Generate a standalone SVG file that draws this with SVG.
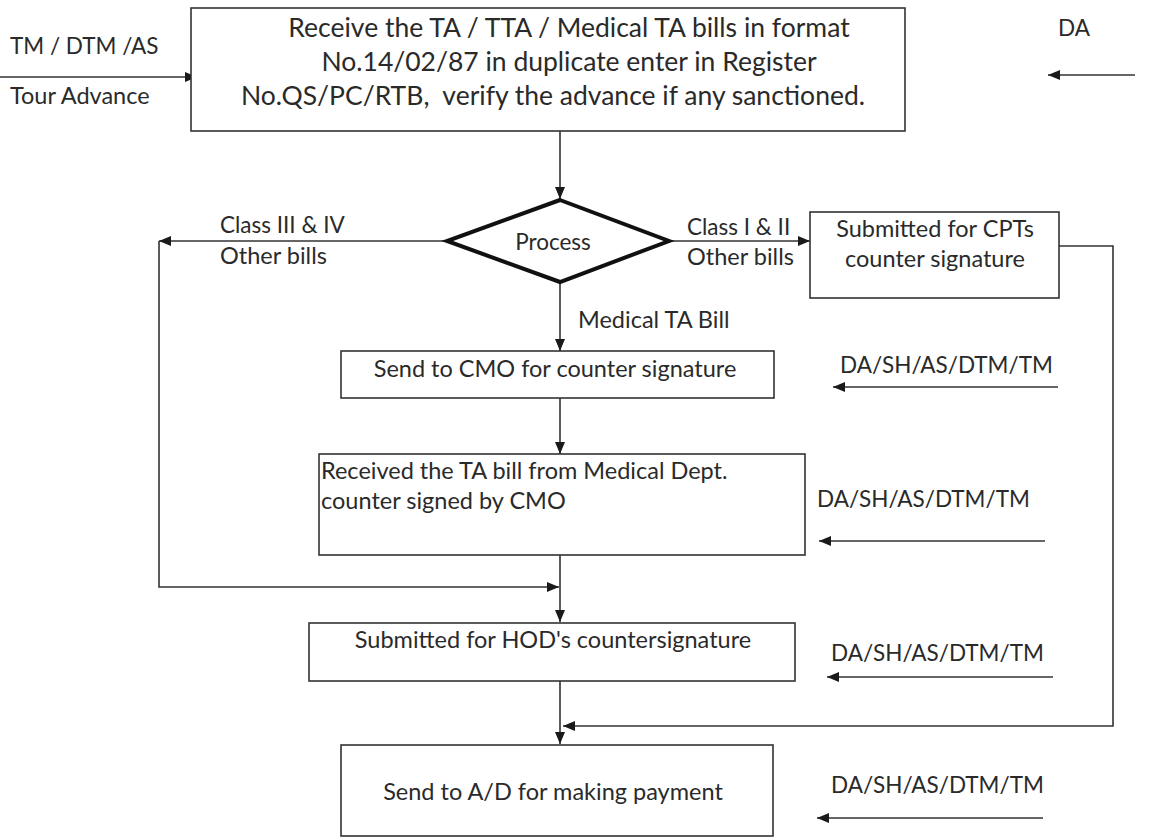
<svg xmlns="http://www.w3.org/2000/svg" width="1166" height="837" viewBox="0 0 1166 837">
  <style>
    .box { fill: #ffffff; stroke: #333333; stroke-width: 1.6; }
    .dec { fill: #ffffff; stroke: #111111; stroke-width: 4; stroke-linejoin: miter; }
    .wire { fill: none; stroke: #333333; stroke-width: 1.6; }
    .arr { marker-end: url(#head); }
    text { font-family: Lato, "Open Sans", "Liberation Sans", sans-serif; fill: #2a2a2a; }
    .t { font-size: 23.5px; }
    .k { font-size: 22.5px; }
    .tl { font-size: 26.5px; }
    .c { text-anchor: middle; }
  </style>
  <defs>
    <marker id="head" viewBox="0 0 12 10" refX="12" refY="5" markerWidth="12" markerHeight="10" markerUnits="userSpaceOnUse" orient="auto">
      <path d="M0,0 L12,5 L0,10 z" fill="#1a1a1a"/>
    </marker>
  </defs>
  <rect width="1166" height="837" fill="#ffffff"/>

  <!-- flow lines -->
  <g id="connectors">
    <line class="wire arr" x1="0" y1="77" x2="197" y2="77"/>
    <line class="wire arr" x1="1135" y1="75" x2="1048" y2="75"/>
    <line class="wire arr" x1="560" y1="131" x2="560" y2="199"/>
    <line class="wire arr" x1="447" y1="241" x2="159" y2="241"/>
    <line class="wire arr" x1="669" y1="241" x2="810" y2="241"/>
    <line class="wire arr" x1="560" y1="283" x2="560" y2="351"/>
    <line class="wire arr" x1="560" y1="398" x2="560" y2="454"/>
    <line class="wire arr" x1="560" y1="555" x2="560" y2="622"/>
    <path class="wire arr" d="M159,241 L159,587 L559,587"/>
    <line class="wire arr" x1="560" y1="681" x2="560" y2="744"/>
    <path class="wire arr" d="M1059,246 L1113,246 L1113,726 L563,726"/>
    <line class="wire arr" x1="1058" y1="387" x2="833" y2="387"/>
    <line class="wire arr" x1="1045" y1="541" x2="819" y2="541"/>
    <line class="wire arr" x1="1053" y1="677" x2="827" y2="677"/>
    <line class="wire arr" x1="1043" y1="818" x2="817" y2="818"/>
  </g>

  <!-- side labels -->
  <g id="labels">
    <text class="k" x="10" y="54">TM / DTM /AS</text>
    <text class="t" x="10" y="104">Tour Advance</text>
    <text class="k" x="1058" y="36">DA</text>
    <text class="k" x="220" y="233">Class III &amp; IV</text>
    <text class="t" x="220" y="264">Other bills</text>
    <text class="k" x="687" y="235">Class I &amp; II</text>
    <text class="t" x="687" y="265">Other bills</text>
    <text class="t" x="578" y="328">Medical TA Bill</text>
    <text class="k" x="840" y="373">DA/SH/AS/DTM/TM</text>
    <text class="k" x="817" y="507">DA/SH/AS/DTM/TM</text>
    <text class="k" x="831" y="661">DA/SH/AS/DTM/TM</text>
    <text class="k" x="831" y="793">DA/SH/AS/DTM/TM</text>
  </g>

  <g id="receive">
    <rect class="box" x="191" y="8" width="714" height="123"/>
    <text class="tl c" x="569" y="37">Receive the TA / TTA / Medical TA bills in format</text>
    <text class="tl c" x="569" y="71">No.14/02/87 in duplicate enter in Register</text>
    <text class="tl c" x="553" y="105" xml:space="preserve">No.QS/PC/RTB,  verify the advance if any sanctioned.</text>
  </g>

  <g id="process">
    <polygon class="dec" points="560,200 669,241 560,282 447,241"/>
    <text class="k c" x="553" y="250">Process</text>
  </g>

  <g id="cpt">
    <rect class="box" x="810" y="212" width="249" height="86"/>
    <text class="t c" x="935" y="237">Submitted for CPTs</text>
    <text class="t c" x="935" y="267">counter signature</text>
  </g>

  <g id="cmo">
    <rect class="box" x="341" y="351" width="433" height="47"/>
    <text class="t c" x="555" y="377">Send to CMO for counter signature</text>
  </g>

  <g id="medical">
    <rect class="box" x="319" y="454" width="486" height="101"/>
    <text class="t" x="321" y="479">Received the TA bill from Medical Dept.</text>
    <text class="t" x="321" y="509">counter signed by CMO</text>
  </g>

  <g id="hod">
    <rect class="box" x="309" y="623" width="486" height="58"/>
    <text class="t c" x="553" y="648">Submitted for HOD's countersignature</text>
  </g>

  <g id="payment">
    <rect class="box" x="341" y="745" width="432" height="91"/>
    <text class="t c" x="553" y="800">Send to A/D for making payment</text>
  </g>
</svg>
